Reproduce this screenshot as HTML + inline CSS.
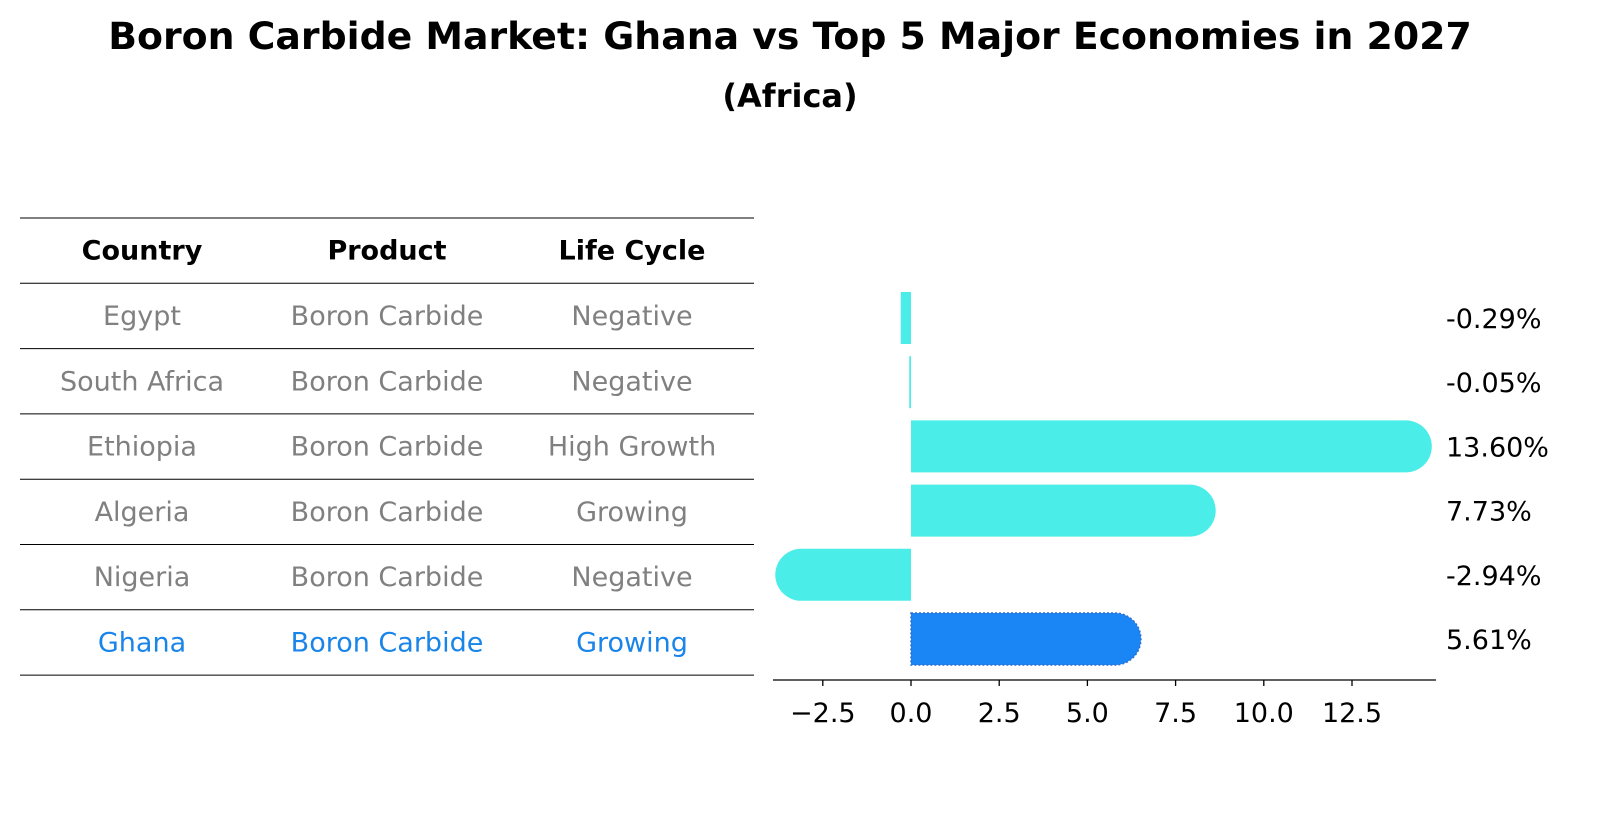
<!DOCTYPE html>
<html><head><meta charset="utf-8"><style>
body{margin:0;background:#fff;font-family:"Liberation Sans","DejaVu Sans",sans-serif;}
</style></head><body>
<svg width="1604" height="823" xmlns="http://www.w3.org/2000/svg" font-family="'DejaVu Sans','Liberation Sans',sans-serif">
<text x="790" y="49" text-anchor="middle" font-size="37.8" font-weight="bold">Boron Carbide Market: Ghana vs Top 5 Major Economies in 2027</text>
<text x="790" y="107" text-anchor="middle" font-size="32" font-weight="bold">(Africa)</text>
<g id="table"></g>
<g id="bars"></g>
</svg>
<script>
const countries=["Egypt","South Africa","Ethiopia","Algeria","Nigeria","Ghana"];
const products=["Boron Carbide","Boron Carbide","Boron Carbide","Boron Carbide","Boron Carbide","Boron Carbide"];
const lifecycles=["Negative","Negative","High Growth","Growing","Negative","Growing"];
const values=[-0.29,-0.05,13.60,7.73,-2.94,5.61];
const ticks=[-2.5,0.0,2.5,5.0,7.5,10.0,12.5];
const NS="http://www.w3.org/2000/svg";
function mk(tag,attrs,parent,text){const e=document.createElementNS(NS,tag);for(const k in attrs)e.setAttribute(k,attrs[k]);if(text!==undefined)e.textContent=text;parent.appendChild(e);return e;}
const tbl=document.getElementById('table');
const rowTop=218,rowH=65.3,colX=[142,387,632];
for(let i=0;i<=7;i++){const l=mk('line',{x1:20,x2:754,y1:rowTop+i*rowH,y2:rowTop+i*rowH,stroke:'#000','stroke-width':1},tbl);

}
["Country","Product","Life Cycle"].forEach((h,j)=>{const t=mk('text',{x:colX[j],y:rowTop+rowH/2+9,'text-anchor':'middle','font-size':27,'font-weight':'bold'},tbl,h);

});
countries.forEach((c,i)=>{const col=c==="Ghana"?'#1a85e8':'#808080';
[c,products[i],lifecycles[i]].forEach((v,j)=>{const t=mk('text',{x:colX[j],y:rowTop+(i+1)*rowH+rowH/2+9,'text-anchor':'middle','font-size':27,fill:col},tbl,v);

});});
const g=document.getElementById('bars');
const x0=911,scale=441/12.5;const X=v=>x0+v*scale;
const Y=i=>318+i*64.2;const bh=52;
values.forEach((v,i)=>{const cy=Y(i),top=cy-bh/2;const xe=X(v);const w=Math.abs(xe-x0);
const dir=v>=0?1:-1;const ext=w>20?(w>400?41:32):0;const r=w>20?26:0;
const end=xe+dir*ext;
let d;
if(r>0){d=`M${x0},${top} L${end-dir*r},${top} A${r},${r} 0 0 ${dir>0?1:0} ${end-dir*r},${top+bh} L${x0},${top+bh} Z`;}
else{d=`M${x0},${top} L${xe},${top} L${xe},${top+bh} L${x0},${top+bh} Z`;}
const ghana=countries[i]==="Ghana";
const p=mk('path',{d:d,fill:ghana?'#1a85f5':'#4aede8',stroke:ghana?'#2d6fd0':'none','stroke-width':ghana?1.5:0,'stroke-dasharray':ghana?'2,2':''},g);


const t=mk('text',{x:1446,y:cy+10,'font-size':27},g,v.toFixed(2)+'%');

});
const ax=mk('line',{x1:773,x2:1436,y1:680,y2:680,stroke:'#000','stroke-width':1.3},g);


ticks.forEach(t=>{const tk=mk('line',{x1:X(t),x2:X(t),y1:680,y2:686,stroke:'#000','stroke-width':1.3},g);


const lb=mk('text',{x:X(t),y:722,'text-anchor':'middle','font-size':27},g,(t<0?'\u2212':'')+Math.abs(t).toFixed(1));

});
</script>
</body></html>
